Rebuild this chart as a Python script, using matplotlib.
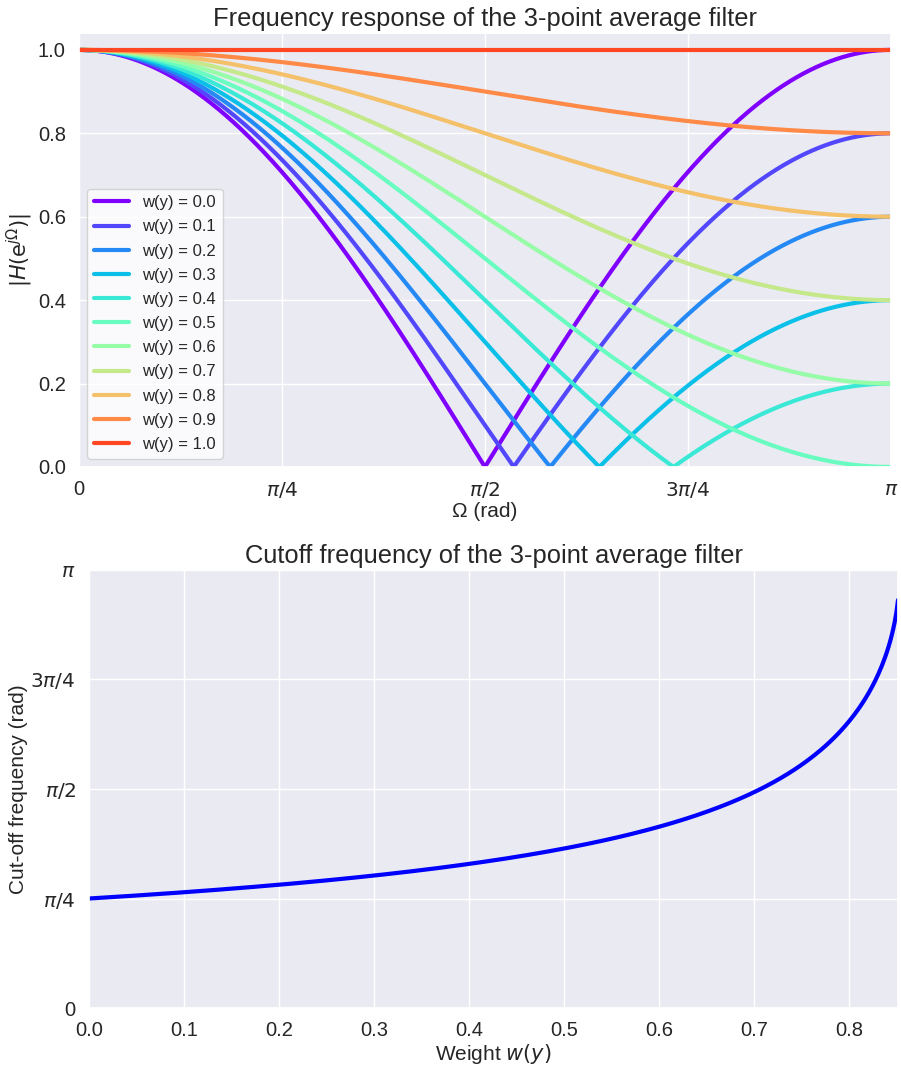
import numpy as np
import matplotlib
matplotlib.use("Agg")
import matplotlib.pyplot as plt
import seaborn as sns

sns.set_theme(style="darkgrid")
plt.rcParams['font.family'] = ['Liberation Sans', 'DejaVu Sans']
plt.rcParams['mathtext.fontset'] = 'dejavusans'

# centre-tap weights of the 3-point filter h = [(1-w)/2, w, (1-w)/2]
weights = [0.0, 0.1, 0.2, 0.3, 0.4, 0.5, 0.6, 0.7, 0.8, 0.9, 1.0]
pi_ticks = [0, np.pi / 4, np.pi / 2, 3 * np.pi / 4, np.pi]
omega_ticklabels = ['0', r'$\pi/4$', r'$\pi/2$', r'$3\pi/4$', r'$\pi$']

omega = np.linspace(0, np.pi, 1000)
colors = plt.cm.rainbow(np.arange(len(weights)) / len(weights))

fig = plt.figure(figsize=(9.01, 10.71), dpi=100)
ax1 = fig.add_axes([0.0877, 0.564, 0.901, 0.405])
ax2 = fig.add_axes([0.0988, 0.0588, 0.8979, 0.4090])

for w, c in zip(weights, colors):
    H = np.abs(w + (1 - w) * np.cos(omega))
    ax1.plot(omega, H, color=c, lw=3, label=f'w(y) = {w:.1f}')

ax1.set_xlim(0, np.pi)
ax1.set_ylim(0, 1.04)
ax1.set_xticks(pi_ticks)
ax1.set_xticklabels(omega_ticklabels)
ax1.set_yticks([0.0, 0.2, 0.4, 0.6, 0.8, 1.0])
ax1.tick_params(labelsize=14.5)
ax1.set_xlabel('Ω (rad)', fontsize=15, labelpad=1)
ax1.set_ylabel(r'$|H(\mathrm{e}^{j\Omega})|$', fontsize=15, labelpad=2)
ax1.set_title('Frequency response of the 3-point average filter', fontsize=18.4, pad=5)
ax1.legend(loc='lower left', fontsize=12, handlelength=2.1, labelspacing=0.55,
           facecolor='white', framealpha=0.8)

# -3 dB cut-off: w + (1-w) cos(Omega_c) = 1/sqrt(2)
w_max = (1 + 1 / np.sqrt(2)) / 2
w_sweep = np.linspace(0, w_max, 500, endpoint=False)
cutoff = np.arccos((1 / np.sqrt(2) - w_sweep) / (1 - w_sweep))

ax2.plot(w_sweep, cutoff, color='blue', lw=3)
ax2.set_xlim(0, w_sweep[-1])
ax2.set_ylim(0, np.pi)
ax2.set_yticks(pi_ticks)
ax2.set_yticklabels(omega_ticklabels)
ax2.tick_params(labelsize=14.5)
ax2.set_xlabel(r'Weight $w(y)$', fontsize=15, labelpad=1)
ax2.set_ylabel('Cut-off frequency (rad)', fontsize=15, labelpad=2)
ax2.set_title('Cutoff frequency of the 3-point average filter', fontsize=18.4, pad=5)

fig.savefig('out.png', dpi=100)
